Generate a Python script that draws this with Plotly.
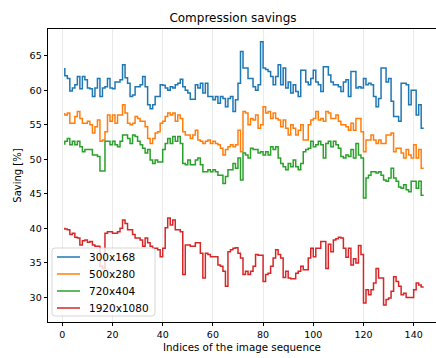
import numpy as np
import plotly.graph_objects as go

# Series names and colours
labels = ["300x168", "500x280", "720x404", "1920x1080"]
colors = ["#1f77b4", "#ff7f0e", "#2ca02c", "#d62728"]

# Compression saving [%] per image of the sequence (indices 1..144)
saving_300x168 = [
    63.2, 62.1, 61.7, 59.9, 60.3, 60.8, 62.0, 60.2, 62.0, 61.5,
    60.3, 60.2, 59.1, 60.3, 61.7, 59.1, 60.3, 60.5, 61.7, 60.3,
    60.2, 61.2, 61.2, 61.5, 63.7, 61.8, 61.0, 59.1, 59.3, 60.5,
    60.5, 60.8, 62.0, 60.5, 57.9,
    57.3, 57.9, 59.1, 59.1, 60.8, 60.7, 60.3, 60.0, 60.5, 60.3,
    60.8, 61.0, 61.6, 60.5, 60.0, 59.6, 58.7, 58.7, 60.8, 60.3,
    61.0, 59.6, 61.0, 59.1, 59.1, 58.6, 59.1, 58.1, 59.1, 58.8,
    57.6, 58.8, 59.1, 56.9, 58.6, 61.0,
    65.6, 63.2, 63.2, 61.7, 61.7, 60.5, 60.0, 60.8, 67.0, 63.2,
    63.0, 62.7, 62.0, 60.8, 62.0, 63.7, 60.8, 63.2, 60.3, 61.2,
    59.6, 60.8, 59.8, 59.1, 62.9, 62.9, 61.2, 60.8, 61.7, 62.9,
    61.2, 60.8, 59.8, 63.4,
    63.4, 62.2, 61.2, 60.8, 60.8, 60.5, 59.8, 61.2, 61.5, 59.1,
    62.7, 62.7, 60.3, 60.5, 60.3, 61.7, 60.8, 61.0, 60.8, 59.1,
    57.6, 58.8, 63.2, 63.2, 61.2, 61.7, 58.4, 56.2, 56.2, 55.5,
    61.0, 61.0, 60.8, 57.9, 60.0, 60.0, 56.4, 57.9, 54.5,
]
saving_500x280 = [
    56.7, 56.4, 56.7, 55.2, 55.2, 56.2, 56.9, 55.9, 55.2, 55.2,
    55.5, 55.0, 53.8, 54.7, 55.7, 52.6, 52.8, 54.0, 56.4, 55.5,
    56.4, 55.2, 56.4, 56.4, 57.9, 56.7, 55.2, 55.0, 55.2, 56.2,
    55.9, 55.5, 55.5, 54.7, 53.0,
    52.3, 53.0, 53.8, 54.0, 55.2, 55.5, 56.2, 56.7, 56.4, 56.7,
    55.5, 56.4, 55.9, 54.0, 53.5, 53.5, 53.0, 53.5, 54.2, 52.8,
    52.6, 52.3, 52.6, 52.8, 52.3, 52.6, 52.3, 52.1, 51.6, 50.6,
    51.4, 51.8, 52.1, 51.8, 52.1, 54.2,
    51.1, 56.9, 56.7, 55.0, 55.9, 55.7, 56.4, 54.5, 55.0, 57.6,
    56.7, 56.9, 55.9, 56.7, 55.9, 55.7, 54.7, 55.7, 54.5, 53.5,
    55.0, 54.5, 53.5, 54.2, 55.0, 52.8, 52.8, 55.0, 55.7, 55.9,
    56.9, 55.7, 55.9, 55.5, 56.9,
    56.7, 55.9, 55.9, 56.4, 55.5, 55.0, 55.0, 54.7, 54.2, 55.2,
    54.2, 55.9, 55.9, 54.0, 51.1, 52.8, 52.8, 53.5, 52.8, 52.3,
    52.8, 52.3, 52.3, 53.5, 53.5, 53.8, 51.1, 51.6, 51.6, 50.9,
    50.2, 51.4, 50.6, 50.2, 52.1, 50.2, 51.4, 48.7,
]
saving_720x404 = [
    52.1, 52.6, 53.0, 52.1, 52.6, 52.1, 52.6, 51.8, 51.1, 51.4,
    51.4, 51.4, 50.6, 50.6, 50.4, 48.3, 48.3, 52.6, 52.6, 52.1,
    52.6, 52.1, 51.8, 52.6, 53.5, 53.5, 53.0, 52.3, 53.5, 53.3,
    52.6, 52.1, 51.6, 50.9, 51.4,
    49.9, 49.4, 49.9, 49.6, 49.6, 51.4, 52.3, 53.0, 52.3, 53.3,
    52.6, 53.3, 52.3, 49.4, 49.2, 49.9, 49.2, 49.2, 49.9, 50.2,
    49.2, 48.2, 48.2, 48.5, 48.2, 48.5, 48.2, 47.7, 47.7, 46.5,
    47.5, 48.5, 48.5, 49.4, 48.7, 50.2,
    47.0, 50.9, 50.6, 50.2, 51.6, 51.4, 51.4, 50.9, 51.1, 50.6,
    51.1, 50.6, 51.8, 51.4, 51.8, 50.2, 49.4, 48.9, 48.5, 49.4,
    48.9, 49.9, 48.9, 48.5, 49.4, 51.1, 51.4, 51.6, 52.6, 51.8,
    52.1, 52.6, 52.1, 50.2, 52.3,
    52.6, 51.8, 52.6, 52.1, 51.6, 50.4, 50.2, 50.6, 50.4, 51.4,
    50.2, 52.3, 50.6, 50.2, 44.4, 47.3, 47.7, 48.2, 48.2, 48.0,
    48.2, 47.7, 47.0, 46.8, 47.3, 48.7, 47.3, 46.8, 46.0, 45.8,
    46.3, 45.6, 45.3, 46.8, 46.8, 45.8, 46.8, 44.8,
]
saving_1920x1080 = [
    40.1, 39.9, 39.8, 39.1, 39.3, 38.7, 38.6, 37.6, 38.2, 38.3,
    38.0, 38.1, 37.6, 37.4, 37.4, 34.5, 34.2, 39.3, 39.5, 39.5,
    39.3, 39.3, 39.5, 40.0, 41.2, 40.7, 39.8, 39.8, 39.1, 38.6,
    38.6, 38.3, 37.4, 38.6, 37.9,
    37.4, 37.1, 37.1, 36.9, 35.9, 37.1, 40.1, 41.5, 40.5, 41.2,
    39.8, 39.8, 39.5, 33.3, 37.6, 37.6, 37.4, 37.4, 37.9, 37.9,
    36.4, 32.8, 36.4, 36.2, 35.9, 35.9, 35.9, 34.7, 34.5, 33.8,
    31.6, 36.6, 36.9, 37.1, 37.2, 36.4,
    35.7, 33.3, 33.8, 33.3, 33.8, 34.5, 36.2, 36.1, 36.1, 32.3,
    33.3, 33.5, 34.5, 35.7, 36.9, 36.2, 35.7, 32.9, 33.8, 32.8,
    32.7, 32.7, 33.5, 33.8, 34.5, 34.0, 34.0, 35.7, 37.1, 35.9,
    37.1, 37.1, 38.1, 38.1, 34.2,
    37.7, 36.6, 38.3, 38.5, 38.7, 38.6, 37.1, 35.8, 37.1, 34.7,
    35.6, 35.0, 37.5, 36.2, 29.2, 31.1, 30.4, 31.1, 32.1, 34.2,
    32.8, 32.8, 28.9, 29.7, 29.9, 30.9, 33.0, 32.3, 31.6, 30.4,
    30.6, 30.0, 30.0, 30.0, 31.1, 32.1, 31.8, 31.5,
]

x_ticks = [0, 20, 40, 60, 80, 100, 120, 140]
y_ticks = [30, 35, 40, 45, 50, 55, 60, 65]

series = [saving_300x168, saving_500x280, saving_720x404, saving_1920x1080]

FONT = "DejaVu Sans"
W, H = 436, 358
ML, MR, MT, MB = 48, 0, 29, 36
PW, PH = W - ML - MR, H - MT - MB


def px(x):
    """Horizontal pixel -> paper coordinate."""
    return (x - ML) / PW


def py(y):
    """Vertical pixel (from top) -> paper coordinate."""
    return (H - MB - y) / PH


fig = go.Figure()
for name, vals, col in zip(labels, series, colors):
    idx = np.arange(1, len(vals) + 1)
    fig.add_trace(go.Scatter(
        x=idx, y=vals, mode="lines", name=name, showlegend=False,
        line=dict(color=col, width=1.5, shape="vh"),
    ))

# Legend box (lower left, rounded frame, translucent white fill)
bx0, bx1, by0, by1, r = 52, 155, 248, 316, 3
rx, ry = r / PW, r / PH
X0, X1, Y0, Y1 = px(bx0), px(bx1), py(by1), py(by0)
path = (f"M {X0 + rx},{Y0} L {X1 - rx},{Y0} Q {X1},{Y0} {X1},{Y0 + ry} "
        f"L {X1},{Y1 - ry} Q {X1},{Y1} {X1 - rx},{Y1} "
        f"L {X0 + rx},{Y1} Q {X0},{Y1} {X0},{Y1 - ry} "
        f"L {X0},{Y0 + ry} Q {X0},{Y0} {X0 + rx},{Y0} Z")
shapes = [dict(type="path", path=path, xref="paper", yref="paper",
               fillcolor="rgba(255,255,255,0.8)", line=dict(color="#cccccc", width=0.8),
               layer="above")]
annotations = []
row_y = [257, 274, 291, 308]
for name, col, yy in zip(labels, colors, row_y):
    shapes.append(dict(type="line", xref="paper", yref="paper",
                       x0=px(57), x1=px(80), y0=py(yy), y1=py(yy),
                       line=dict(color=col, width=1.5), layer="above"))
    annotations.append(dict(text=name, xref="paper", yref="paper", x=px(87), y=py(yy),
                            xanchor="left", yanchor="middle", showarrow=False,
                            font=dict(family=FONT, size=10.5, color="black")))

fig.update_layout(
    width=W, height=H,
    margin=dict(l=ML, r=MR, t=MT, b=MB),
    paper_bgcolor="white", plot_bgcolor="white",
    font=dict(family=FONT, size=9.5, color="black"),
    title=dict(text="Compression savings", font=dict(family=FONT, size=12, color="black"),
               xref="container", x=233 / W, xanchor="center",
               yref="container", y=1 - 18 / H, yanchor="middle"),
    showlegend=False,
    shapes=shapes,
    annotations=annotations,
)

fig.update_xaxes(
    range=[-5.7, 148.9], tickvals=x_ticks, ticks="outside", ticklen=3.5, tickwidth=0.8,
    tickcolor="black", showline=True, linecolor="black", linewidth=0.8, mirror=True,
    showgrid=True, gridcolor="#ebebeb", gridwidth=0.8, zeroline=False,
    tickfont=dict(family=FONT, size=9.5),
    title=dict(text="Indices of the image sequence", standoff=4,
               font=dict(family=FONT, size=10.3)),
)
fig.update_yaxes(
    range=[26.44, 68.86], tickvals=y_ticks, ticks="outside", ticklen=3.5, tickwidth=0.8,
    tickcolor="black", showline=True, linecolor="black", linewidth=0.8, mirror=False,
    showgrid=False, zeroline=False,
    tickfont=dict(family=FONT, size=9.5),
    title=dict(text="Saving [%]", standoff=6, font=dict(family=FONT, size=10)),
)

fig.write_html("out.html")
